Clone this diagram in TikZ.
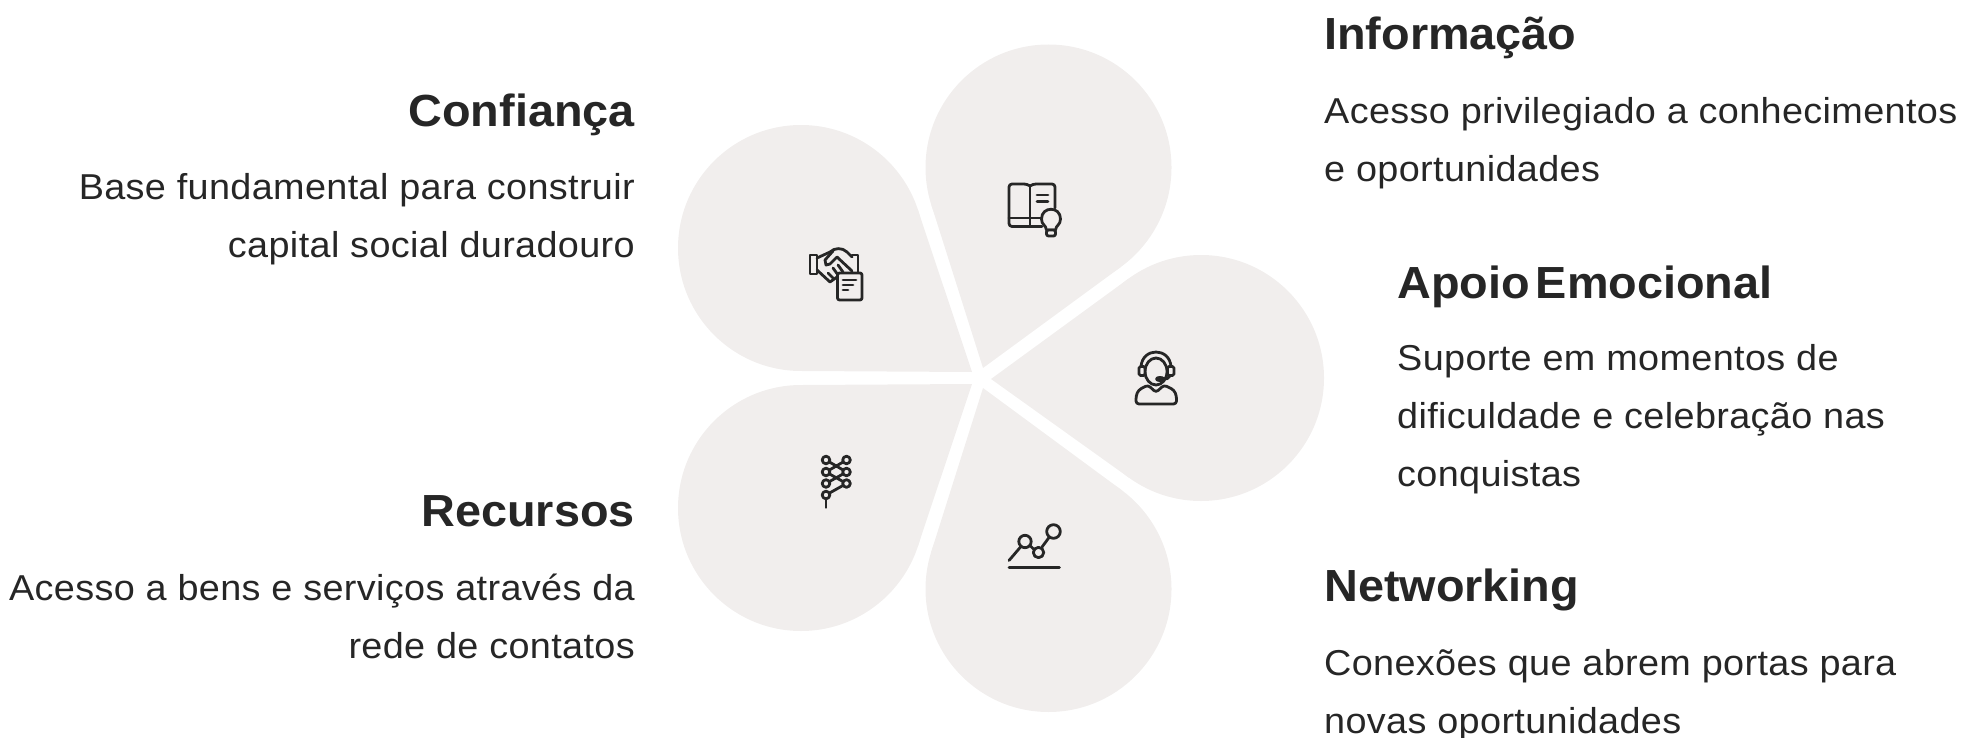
\documentclass[tikz,border=0pt]{standalone}
\usepackage{fontspec}
\setmainfont{Liberation Sans}
\newfontfamily\corpofont[FakeStretch=1.05,LetterSpace=1]{Liberation Sans}
\newfontfamily\titulofont[FakeStretch=1.04]{Liberation Sans}
\usepackage{xcolor}
\usetikzlibrary{calc,positioning}
\definecolor{petalfill}{HTML}{F1EEED}
\definecolor{ink}{HTML}{262626}
\tikzset{petal/.style={circle,fill=petalfill,minimum size=246pt,inner sep=0pt,outer sep=0pt}}
\tikzset{titulo/.style={text=ink,inner sep=0pt,font=\titulofont\fontsize{45}{54}\selectfont\bfseries}}
\tikzset{corpo/.style={text=ink,inner sep=0pt,font=\corpofont\fontsize{36}{58}\selectfont}}
\tikzset{icon/.style={draw=ink,line width=2.8pt,line cap=round,line join=round}}
\tikzset{iconfill/.style={icon,fill=petalfill}}
\newcommand{\petalshape}[3]{
    \node[petal] (#1) at (#2) {};
    \coordinate (#1tip) at (#3);
    \fill[petalfill] (#1tip) -- (tangent cs:node=#1,point={(#1tip)},solution=1)
        -- (tangent cs:node=#1,point={(#1tip)},solution=2) -- cycle;
}

\begin{document}
\begin{tikzpicture}[x=1pt,y=-1pt]
    \useasboundingbox (0,0) rectangle (1964,738);

    \petalshape{confianca}{801,248}{972,372}
    \petalshape{informacao}{1048.5,167.5}{983,368}
    \petalshape{apoio}{1201,378}{991,379}
    \petalshape{networking}{1048.5,589}{983,388}
    \petalshape{recursos}{801,508}{972,384}

    % left side
    \node[titulo,anchor=base east] (tconfianca) at (635,127) {Confiança};
    \node[corpo,anchor=north east,align=right] (bconfianca) at (635,173.5) {Base fundamental para construir\\capital social duradouro};
    \node[titulo,anchor=base east] (trecursos) at (635,526) {Recursos};
    \node[corpo,anchor=north east,align=right] (brecursos) at (635,573.5) {Acesso a bens e serviços através da\\rede de contatos};

    % right side
    \node[titulo,anchor=base west] (tinformacao) at (1324,50) {Informação};
    \node[corpo,anchor=north west,align=left] (binformacao) at (1324,97.5) {Acesso privilegiado a conhecimentos\\e oportunidades};
    \node[titulo,anchor=base west] (tapoio) at (1397,298) {Apoio\hspace{-7pt} Emocional};
    \node[corpo,anchor=north west,align=left] (bapoio) at (1397,344) {Suporte em momentos de\\dificuldade e celebração nas\\conquistas};
    \node[titulo,anchor=base west] (tnetworking) at (1324,601) {Networking};
    \node[corpo,anchor=north west,align=left] (bnetworking) at (1324,649.5) {Conexões que abrem portas para\\novas oportunidades};

    % handshake
    \draw[icon] (817,255) -- (810,255) -- (810,274) -- (817,274) -- cycle;
    \draw[icon] (852,255) -- (858,255) -- (858,274) -- (852,274);
    \draw[icon] (817,258) -- (830,252) .. controls (834,248) and (842,247) .. (847,252) -- (852,257);
    \draw[icon] (833,251) -- (825,260) -- (826,265) -- (830,264) -- (837,257) -- (852,271);
    \draw[icon] (817,270) -- (830,282) -- (837,277);
    \draw[icon] (828,273) -- (833,278) (833,268) -- (838,275) (838,265) -- (843,272);
    \draw[iconfill,rounded corners=2pt] (837.5,273) rectangle (862,300);
    \draw[icon] (843,280) -- (856,280) (843,285) -- (853,285) (843,290) -- (848,290);

    % book and bulb
    \draw[icon,rounded corners=3pt] (1030,186) -- (1027,184) -- (1009,184) -- (1009,226.5) -- (1042,226.5);
    \draw[icon,rounded corners=3pt] (1030,186) -- (1033,184) -- (1055,184) -- (1055,208);
    \draw[icon] (1030,186) -- (1030,226.5);
    \draw[icon] (1009,218) -- (1042,218);
    \draw[icon] (1037,195) -- (1048,195) (1037,201.5) -- (1048,201.5);
    \draw[iconfill] (1046.5,230) .. controls (1046,225) and (1041.5,225) .. (1041.5,219)
        .. controls (1041.5,206) and (1060.5,206) .. (1060.5,219)
        .. controls (1060.5,225) and (1056,225) .. (1055.5,230) -- cycle;
    \draw[iconfill,rounded corners=2pt] (1046.5,230) rectangle (1055.5,236);

    % headset
    \draw[icon] (1156,371.5) ellipse [x radius=11pt,y radius=13.5pt];
    \draw[icon] (1141,367) .. controls (1142,347) and (1170,347) .. (1171,367);
    \draw[iconfill,rounded corners=1.5pt] (1139,366.5) rectangle (1145,375.5);
    \draw[iconfill,rounded corners=1.5pt] (1167.5,366.5) rectangle (1174,375.5);
    \draw[icon] (1170,376) .. controls (1169,379) and (1166,379) .. (1163,379);
    \draw[iconfill] (1160,379) ellipse [x radius=3.5pt,y radius=1.6pt];
    \draw[icon,rounded corners=3pt] (1148,385) -- (1156,392.5) -- (1164,385) -- (1174,390) -- (1176.5,396) -- (1176.5,404) -- (1136,404) -- (1136,396) -- (1138.5,390) -- cycle;

    % strand
    \draw[icon] (826,460) -- (846.5,472) -- (826,483.5) (846.5,460) -- (826,472) -- (846.5,483.5) -- (826,495);
    \draw[icon] (826,498) -- (826,507.5);
    \draw[iconfill] (826,460) circle (3.8pt) (846.5,460) circle (3.8pt);
    \draw[iconfill] (826,472) circle (3.8pt) (846.5,472) circle (3.8pt);
    \draw[iconfill] (826,483.5) circle (3.8pt) (846.5,483.5) circle (3.8pt);
    \draw[iconfill] (826,495) circle (3.8pt);

    % chart
    \draw[icon] (1009,560.5) -- (1020.5,547);
    \draw[icon] (1030.5,546) -- (1033.5,549);
    \draw[icon] (1042,547) -- (1049,537.5);
    \draw[icon] (1025,541.5) circle (6.2pt);
    \draw[icon] (1038.5,552.5) circle (5.2pt);
    \draw[icon] (1053.5,531.5) circle (6.8pt);
    \draw[icon] (1009,567.5) -- (1059.5,567.5);
\end{tikzpicture}
\end{document}
